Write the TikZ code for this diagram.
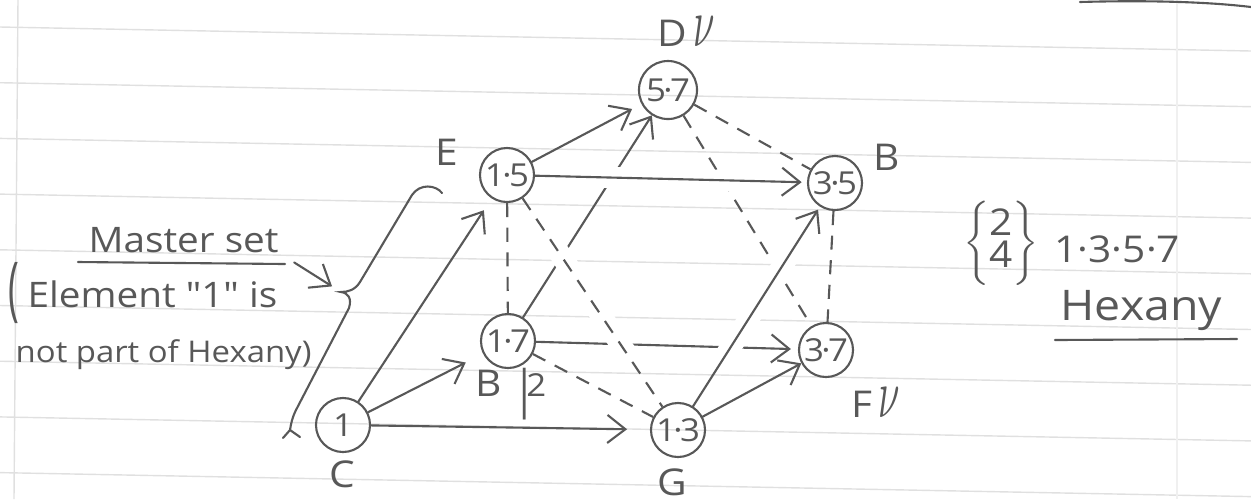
\documentclass[tikz,border=0pt]{standalone}
\usepackage{fontspec}
\newfontfamily\hand{Open Sans}[FakeStretch=1.1]
\usetikzlibrary{arrows.meta,calc}
\definecolor{pencil}{HTML}{585858}
\newcommand\ndot{\kern-.08em·\kern-.08em}
\begin{document}
\begin{tikzpicture}[x=0.01cm,y=-0.01cm,
  every node/.style={text=pencil,inner sep=0pt,font={\hand\fontsize{10.5}{12}\selectfont}},
  vtx/.style={circle,draw=pencil,line width=0.6pt,minimum size=0.54cm,font={\hand\fontsize{9}{9}\selectfont}},
  pen/.style={draw=pencil,line width=0.6pt,line cap=round},
  arr/.style={pen,-{Straight Barb[length=1.8mm,width=2.8mm]}},
  dsh/.style={draw=pencil,line width=0.6pt,dash pattern=on 4pt off 3pt},
  gapw/.style={draw=white,line width=6pt},
  rule/.style={draw=black!12,line width=0.4pt}]
\useasboundingbox (0,0) rectangle (1251,499);
\foreach \k in {0,...,8}
  \draw[rule] (0,{27+55.7*\k}) -- (1251,{51+55.7*\k});
\draw[rule] (18,0) -- (14,499);
\draw[rule,draw=black!6] (1177,0) -- (1177,499);
\draw[pen] (1080,2) .. controls (1150,0) and (1210,2) .. (1251,7);

\node[vtx] (c) at (343,425) {1};
\node[vtx] (e) at (507,175) {1\ndot5};
\node[vtx] (bb) at (508,341) {1\ndot7};
\node[vtx] (g) at (678,430) {1\ndot3};
\node[vtx,minimum size=0.58cm] (d) at (668,90) {5\ndot7};
\node[vtx] (b) at (835,183) {3\ndot5};
\node[vtx] (f) at (826,350) {3\ndot7};

\node (lc) at (342,474) {C};
\node (lg) at (672,482) {G};
\node (le) at (447,152) {E};
\node (lb) at (887,157) {B};
\node (ld) at (686,32) {D\,\scalebox{1}[1.8]{$\nu$}};
\node (lf) at (876,403) {F\,\scalebox{1}[1.8]{$\nu$}};
\node (lbb) at (511,394) {B\kern.3em\raisebox{-3pt}{\scalebox{1}[1.4]{|}}\kern-.25em{\fontsize{9}{9}\selectfont 2}};

\draw[arr] (bb) -- (d);
\draw[arr,shorten >=2pt] (bb) -- (f);
\draw[dsh] (d) -- (f);
\draw[gapw] ($(e)!.25!(g)$) -- ($(e)!.75!(g)$);
\draw[gapw] ($(e)!.22!(b)$) -- ($(e)!.78!(b)$);
\draw[gapw] ($(g)!.25!(b)$) -- ($(g)!.75!(b)$);
\draw[dsh] (e) -- (g);
\draw[arr,shorten >=1.5pt] (e) -- (b);
\draw[arr,shorten >=1pt] (g) -- (b);
\draw[arr,shorten >=3pt] (e) -- (d);
\draw[arr] (g) -- (f);
\draw[dsh] (e) -- (bb);
\draw[dsh] (bb) -- (g);
\draw[dsh] (d) -- (b);
\draw[dsh] (b) -- (f);
\draw[arr,shorten >=4pt] (c) -- (e);
\draw[arr,shorten >=5.5pt] (c) -- (bb);
\draw[arr,shorten >=6.5pt] (c) -- (g);

\node[anchor=base west,font={\hand\fontsize{10}{12}\selectfont}] (master) at (88,252) {Master set};
\draw[pen] (78,262) -- (285,264);
\node (lpar) at (14,293) {\scalebox{0.9}[1.9]{(}};
\node[anchor=base west,font={\hand\fontsize{10}{12}\selectfont}] (elem) at (27,307) {Element "1" is};
\node[anchor=base west,font={\hand\fontsize{8.5}{10}\selectfont}] (notpart) at (15,362) {not part of Hexany)};
\coordinate (tip) at (341,292);
\draw[pen] (442,193) .. controls (436,185) and (420,183) .. (412,195) -- (360,282)
  .. controls (355,290) and (348,292) .. (tip)
  .. controls (348,293) and (352,298) .. (349,308) -- (296,410)
  .. controls (292,418) and (291,424) .. (290,430);
\draw[pen] (283,438) -- (290,430) -- (300,437);
\draw[arr,shorten <=5pt,shorten >=3pt] (master.south east) -- (tip);

\node (comb) at (1001,243) {$\left\{\vcenter{\hbox{\begin{tabular}{@{}c@{}}2\\[-3pt]4\end{tabular}}}\right\}$};
\node[anchor=base west] (prod) at (1054,262) {1·3·5·7};
\node[anchor=base west,font={\hand\fontsize{12}{14}\selectfont}] (hex) at (1060,320) {Hexany};
\draw[pen] (1055,340) -- (1237,339);
\end{tikzpicture}
\end{document}
